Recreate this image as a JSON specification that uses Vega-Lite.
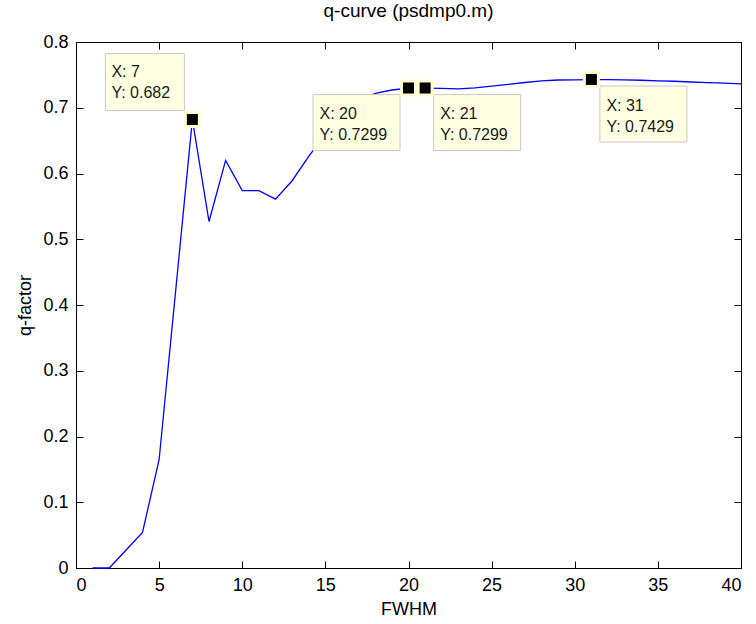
{
  "$schema": "https://vega.github.io/schema/vega-lite/v6.json",
  "width": 665,
  "height": 526,
  "autosize": {"type": "none"},
  "padding": {"left": 76, "top": 42, "right": 15, "bottom": 56},
  "background": "white",
  "title": {"text": "q-curve (psdmp0.m)", "font": "Liberation Sans", "fontSize": 19, "fontWeight": "normal", "color": "#000", "offset": 12},
  "config": {
    "view": {"stroke": "#000", "strokeWidth": 1},
    "axis": {
      "labelFont": "Liberation Sans", "labelFontSize": 18, "labelColor": "#000",
      "titleFont": "Liberation Sans", "titleFontSize": 18, "titleFontWeight": "normal", "titleColor": "#000",
      "domainColor": "#000", "tickColor": "#000", "grid": false, "tickSize": -7, "labelPadding": 15
    }
  },
  "datasets": {
    "curve": [
      {"x": 1, "y": 0}, {"x": 2, "y": 0}, {"x": 3, "y": 0.027}, {"x": 4, "y": 0.054},
      {"x": 5, "y": 0.165}, {"x": 6, "y": 0.423}, {"x": 7, "y": 0.682}, {"x": 8, "y": 0.527},
      {"x": 9, "y": 0.62}, {"x": 10, "y": 0.574}, {"x": 11, "y": 0.574}, {"x": 12, "y": 0.561},
      {"x": 13, "y": 0.589}, {"x": 14, "y": 0.626}, {"x": 15, "y": 0.66}, {"x": 16, "y": 0.69},
      {"x": 17, "y": 0.71}, {"x": 18, "y": 0.722}, {"x": 19, "y": 0.727}, {"x": 20, "y": 0.7299},
      {"x": 21, "y": 0.7299}, {"x": 22, "y": 0.7295}, {"x": 23, "y": 0.7288}, {"x": 24, "y": 0.7303},
      {"x": 25, "y": 0.7329}, {"x": 26, "y": 0.7355}, {"x": 27, "y": 0.7384}, {"x": 28, "y": 0.741},
      {"x": 29, "y": 0.7422}, {"x": 30, "y": 0.7425}, {"x": 31, "y": 0.7429}, {"x": 32, "y": 0.7429},
      {"x": 33, "y": 0.7425}, {"x": 34, "y": 0.7418}, {"x": 35, "y": 0.741}, {"x": 36, "y": 0.7403},
      {"x": 37, "y": 0.7392}, {"x": 38, "y": 0.7381}, {"x": 39, "y": 0.7373}, {"x": 40, "y": 0.7362}
    ],
    "tips": [
      {"x": 7, "y": 0.682}, {"x": 20, "y": 0.7299}, {"x": 21, "y": 0.7299}, {"x": 31, "y": 0.7429}
    ]
  },
  "resolve": {"axis": {"x": "independent", "y": "independent"}},
  "layer": [
    {
      "data": {"name": "curve"},
      "mark": {"type": "line", "color": "#0000FF", "strokeWidth": 1.3},
      "encoding": {
        "x": {"field": "x", "type": "quantitative", "scale": {"domain": [0, 40], "nice": false},
              "axis": {"orient": "bottom", "title": "FWHM", "values": [0, 5, 10, 15, 20, 25, 30, 35, 40], "titlePadding": 6}},
        "y": {"field": "y", "type": "quantitative", "scale": {"domain": [0, 0.8], "nice": false},
              "axis": {"orient": "left", "title": "q-factor", "values": [0, 0.1, 0.2, 0.3, 0.4, 0.5, 0.6, 0.7, 0.8], "format": ".1~f", "titlePadding": 8}}
      }
    },
    {
      "data": {"name": "tips"},
      "transform": [{"filter": "datum.x == 7"}],
      "mark": {"type": "rect", "fill": "#FFFFE1", "stroke": "#C8C8C8", "strokeWidth": 1,
               "xOffset": -87, "x2Offset": -8, "yOffset": -66, "y2Offset": -9},
      "encoding": {
        "x": {"field": "x", "type": "quantitative", "axis": null}, "x2": {"field": "x"},
        "y": {"field": "y", "type": "quantitative", "axis": null}, "y2": {"field": "y"}
      }
    },
    {
      "data": {"name": "tips"},
      "transform": [{"filter": "datum.x == 20"}],
      "mark": {"type": "rect", "fill": "#FFFFE1", "stroke": "#C8C8C8", "strokeWidth": 1,
               "xOffset": -95.5, "x2Offset": -8.5, "yOffset": 6.5, "y2Offset": 62.5},
      "encoding": {
        "x": {"field": "x", "type": "quantitative", "axis": null}, "x2": {"field": "x"},
        "y": {"field": "y", "type": "quantitative", "axis": null}, "y2": {"field": "y"}
      }
    },
    {
      "data": {"name": "tips"},
      "transform": [{"filter": "datum.x == 21 || datum.x == 31"}],
      "mark": {"type": "rect", "fill": "#FFFFE1", "stroke": "#C8C8C8", "strokeWidth": 1,
               "xOffset": 8.5, "x2Offset": 95.5, "yOffset": 6.5, "y2Offset": 62.5},
      "encoding": {
        "x": {"field": "x", "type": "quantitative", "axis": null}, "x2": {"field": "x"},
        "y": {"field": "y", "type": "quantitative", "axis": null}, "y2": {"field": "y"}
      }
    },
    {
      "data": {"name": "tips"},
      "transform": [{"filter": "datum.x == 7"}, {"calculate": "'X: ' + datum.x + '\\n' + 'Y: ' + datum.y", "as": "label"}],
      "mark": {"type": "text", "align": "left", "baseline": "top", "dx": -81, "dy": -56, "lineBreak": "\n", "lineHeight": 21,
               "font": "Liberation Sans", "fontSize": 16, "color": "#1a1a1a"},
      "encoding": {
        "x": {"field": "x", "type": "quantitative", "axis": null},
        "y": {"field": "y", "type": "quantitative", "axis": null},
        "text": {"field": "label", "type": "nominal"}
      }
    },
    {
      "data": {"name": "tips"},
      "transform": [{"filter": "datum.x == 20"}, {"calculate": "'X: ' + datum.x + '\\n' + 'Y: ' + datum.y", "as": "label"}],
      "mark": {"type": "text", "align": "left", "baseline": "top", "dx": -89, "dy": 18, "lineBreak": "\n", "lineHeight": 21,
               "font": "Liberation Sans", "fontSize": 16, "color": "#1a1a1a"},
      "encoding": {
        "x": {"field": "x", "type": "quantitative", "axis": null},
        "y": {"field": "y", "type": "quantitative", "axis": null},
        "text": {"field": "label", "type": "nominal"}
      }
    },
    {
      "data": {"name": "tips"},
      "transform": [{"filter": "datum.x == 21 || datum.x == 31"}, {"calculate": "'X: ' + datum.x + '\\n' + 'Y: ' + datum.y", "as": "label"}],
      "mark": {"type": "text", "align": "left", "baseline": "top", "dx": 15, "dy": 18, "lineBreak": "\n", "lineHeight": 21,
               "font": "Liberation Sans", "fontSize": 16, "color": "#1a1a1a"},
      "encoding": {
        "x": {"field": "x", "type": "quantitative", "axis": null},
        "y": {"field": "y", "type": "quantitative", "axis": null},
        "text": {"field": "label", "type": "nominal"}
      }
    },
    {
      "data": {"name": "tips"},
      "mark": {"type": "point", "shape": "square", "size": 196, "filled": true, "fill": "#000", "stroke": "#FFFFD0", "strokeWidth": 3, "opacity": 1},
      "encoding": {
        "x": {"field": "x", "type": "quantitative",
              "axis": {"orient": "top", "labels": false, "title": null, "domain": false, "values": [0, 5, 10, 15, 20, 25, 30, 35, 40]}},
        "y": {"field": "y", "type": "quantitative",
              "axis": {"orient": "right", "labels": false, "title": null, "domain": false, "values": [0, 0.1, 0.2, 0.3, 0.4, 0.5, 0.6, 0.7, 0.8]}}
      }
    }
  ]
}
